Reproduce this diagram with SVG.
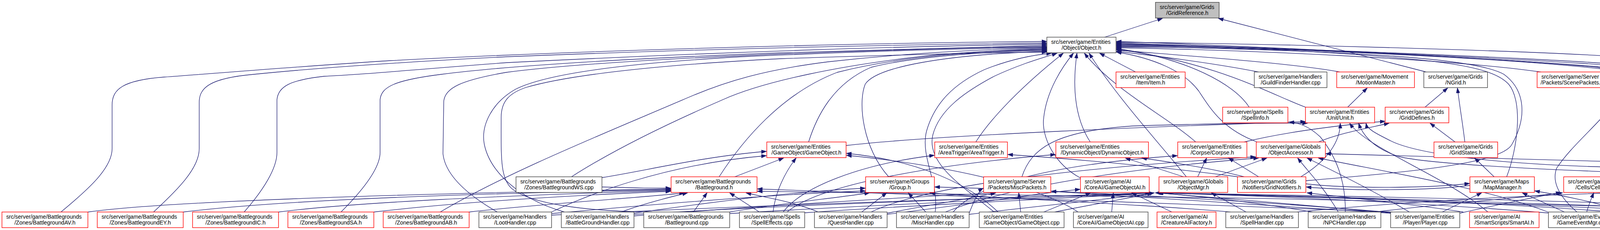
<svg xmlns="http://www.w3.org/2000/svg" width="4959" height="588" viewBox="0 0 4959 588">
<style>
.n rect{fill:#fff;stroke:#404040;stroke-width:1.4}
.r rect{stroke:#ff0000}
text{font-family:"Liberation Sans",Arial,sans-serif;font-size:14.2px;fill:#000}
.m{text-anchor:middle}
#edges path{fill:none;stroke:#191970;stroke-width:1.3;marker-end:url(#ah)}
</style>
<defs>
<marker id="ah" markerUnits="userSpaceOnUse" markerWidth="14" markerHeight="10" refX="13" refY="5" orient="auto"><path d="M0,0.5 L13,5 L0,9.5 z" fill="#191970" stroke="#191970" stroke-width="1"/></marker>
</defs>
<rect width="4959" height="588" fill="#fff"/>
<g id="edges">
<path d="M2828,95 L2976,47"/>
<path d="M3651,184 L3119,47"/>
<path d="M156,542 C225,485 287,430 287,380 L287,268 C287,228 315,205 420,197 C560,187 760,170 1000,155 C1500,128 2200,110 2680,106"/>
<path d="M393,542 C455,485 510,430 510,380 L510,262 C510,225 535,200 650,190 C800,175 1000,160 1300,145 C1800,125 2300,114 2680,110"/>
<path d="M625,542 C675,485 709,430 709,390 L709,255 C712,222 740,205 830,195 C950,190 1050,178 1300,160 C1800,135 2300,118 2680,113"/>
<path d="M873,542 C930,485 973,430 973,390 L973,255 C976,222 1010,205 1130,190 C1300,168 1600,150 2000,135 C2300,125 2500,119 2680,116"/>
<path d="M1273,542 C1200,500 1140,450 1134,393 L1136,260 C1138,225 1180,205 1296,185 C1450,165 1700,150 2000,138 C2300,127 2500,121 2680,119"/>
<path d="M1445,542 C1330,510 1255,440 1240,370 C1230,320 1260,262 1320,228 C1400,188 1600,162 1900,145 C2200,132 2450,124 2680,121"/>
<path d="M1127,542 C1300,440 1550,340 1760,250 C1860,207 1960,178 2120,158 C2300,138 2500,126 2680,123"/>
<path d="M1463,452 C1560,390 1700,320 1850,255 C1950,210 2150,165 2400,140 C2500,132 2600,127 2680,125"/>
<path d="M1841,452 C1900,360 2000,240 2143,185 C2300,145 2500,130 2680,127"/>
<path d="M2070,363 C2090,300 2130,215 2230,172 C2350,142 2550,131 2680,129"/>
<path d="M2275,452 C2210,380 2195,265 2215,215 C2245,170 2420,140 2680,131"/>
<path d="M1670,542 C1500,540 1360,522 1310,482 C1280,455 1283,400 1283,300 C1283,258 1305,238 1345,224 C1460,190 1700,165 2000,150 C2300,140 2500,135 2680,133"/>
<path d="M2394,542 C2405,470 2355,400 2372,335 C2392,265 2440,215 2520,178 C2590,150 2650,140 2692,136"/>
<path d="M2545,542 C2470,480 2370,420 2388,345 C2405,280 2470,235 2545,195 C2620,160 2680,145 2706,136"/>
<path d="M2498,363 C2535,305 2610,225 2722,136"/>
<path d="M2766,455 C2700,420 2665,350 2672,300 C2680,230 2720,170 2748,136"/>
<path d="M2791,363 C2750,300 2745,220 2757,136"/>
<path d="M3061,363 C2990,300 2850,230 2776,136"/>
<path d="M3037,452 C2980,380 2860,250 2788,136"/>
<path d="M2907,184 L2815,136"/>
<path d="M3222,184 C3100,160 2950,142 2858,131"/>
<path d="M3430,184 C3300,160 3000,140 2858,128"/>
<path d="M3945,184 C3700,150 3200,128 2858,122"/>
<path d="M3198,274 C3160,215 3040,150 2858,124"/>
<path d="M3345,275 C3260,245 3120,160 2858,126"/>
<path d="M3218,363 C3130,330 3100,280 3069,233 C3030,180 2950,148 2858,133"/>
<path d="M3857,452 C3885,380 3900,260 3862,215 C3820,170 3700,150 3280,128 C3100,122 2950,120 2858,120"/>
<path d="M3343,462 C3600,440 3840,420 3870,370 C3910,300 3905,230 3850,190 C3780,150 3500,130 2858,118"/>
<path d="M4100,452 C4150,400 4197,330 4195,260 C4193,215 4180,192 4150,182 C3900,150 3300,122 2858,116"/>
<path d="M4037,542 C4000,510 3970,470 3985,430 C4030,360 4140,280 4147,230 C4150,195 4130,180 4090,172 C3800,145 3300,124 2858,114"/>
<path d="M4294,452 C4290,380 4270,250 4230,200 C4200,175 4150,168 4050,162 C3700,140 3200,120 2858,112"/>
<path d="M4596,452 C4520,330 4420,230 4300,190 C4200,165 4100,160 3900,150 C3500,130 3100,118 2858,110"/>
<path d="M4681,542 C4720,460 4740,330 4735,260 C4730,210 4700,190 4600,180 C4400,160 4200,145 3900,133 C3500,118 3100,110 2858,108"/>
<path d="M4862,542 C4850,450 4845,330 4840,260 C4830,210 4790,195 4700,192 C4600,192 4540,185 4480,178 C4400,185 4300,188 4200,180 C4000,160 3400,125 2858,106"/>
<path d="M3450,274 L3500,225"/>
<path d="M3648,274 L3706,225"/>
<path d="M3750,363 C3745,320 3738,280 3731,225"/>
<path d="M3725,363 L3661,315"/>
<path d="M3825,452 L3775,404"/>
<path d="M3330,452 C3400,410 3431,360 3431,315"/>
<path d="M3375,363 C3430,340 3500,328 3556,315"/>
<path d="M3185,363 C3300,335 3450,318 3546,310"/>
<path d="M1881,452 L2006,404"/>
<path d="M1541,454 C1650,437 1800,400 1962,387"/>
<path d="M1412,542 C1500,500 1700,420 1962,398"/>
<path d="M1979,542 C1985,490 2010,440 2038,404"/>
<path d="M2555,542 C2480,470 2350,410 2167,392"/>
<path d="M2760,542 C2650,470 2400,420 2167,397"/>
<path d="M2166,372 C2400,345 3000,322 3342,311"/>
<path d="M2616,452 C2640,380 2700,335 2900,322 C3100,316 3250,314 3347,315"/>
<path d="M225,542 C400,518 900,498 1717,483"/>
<path d="M469,542 C700,514 1100,497 1717,485"/>
<path d="M713,542 C900,518 1300,499 1717,487"/>
<path d="M957,542 C1200,514 1500,498 1717,489"/>
<path d="M1201,542 C1400,520 1650,505 1752,493"/>
<path d="M1541,478 C1600,480 1660,481 1717,481"/>
<path d="M1590,542 C1650,520 1710,505 1760,493"/>
<path d="M1775,542 L1810,493"/>
<path d="M1944,542 L1868,493"/>
<path d="M2095,542 C2030,515 1960,505 1910,493"/>
<path d="M3565,542 C3000,520 2300,496 1939,483"/>
<path d="M4785,542 C4000,520 2800,497 1939,489"/>
<path d="M1623,545 C1800,520 2000,492 2215,481"/>
<path d="M1412,546 C1700,520 2000,496 2215,488"/>
<path d="M1868,542 C2000,520 2150,505 2226,493"/>
<path d="M2206,542 L2270,493"/>
<path d="M2370,542 L2325,493"/>
<path d="M3150,542 C2900,520 2500,505 2380,493"/>
<path d="M3570,544 C3200,512 2700,486 2393,478"/>
<path d="M2005,542 C2050,480 2200,420 2392,397"/>
<path d="M3169,452 C3000,430 2800,410 2580,395"/>
<path d="M2015,542 C2100,470 2400,420 2702,395"/>
<path d="M3030,452 L2881,404"/>
<path d="M3185,452 C3100,430 3000,415 2923,404"/>
<path d="M2440,542 C2500,470 2700,420 3014,398"/>
<path d="M3066,452 L3089,404"/>
<path d="M3222,452 L3145,404"/>
<path d="M2230,542 C2400,460 2900,420 3214,401"/>
<path d="M2420,542 C2600,470 2950,425 3222,404"/>
<path d="M3111,452 L3243,404"/>
<path d="M3426,542 C3390,480 3350,440 3322,404"/>
<path d="M3608,542 C3520,490 3420,440 3346,404"/>
<path d="M3963,542 C3800,480 3550,440 3375,404"/>
<path d="M4610,542 C4500,460 4420,425 4200,415 C3900,405 3600,398 3394,393"/>
<path d="M4523,455 C4300,445 3700,430 3580,400 C3520,380 3490,350 3478,315"/>
<path d="M4588,542 C4500,470 4400,432 4150,428 C3800,420 3620,390 3560,360 C3520,340 3500,330 3497,315"/>
<path d="M3809,542 C3700,450 3500,380 3455,315"/>
<path d="M3444,542 C3445,460 3420,400 3380,350 C3350,322 3325,314 3300,312"/>
<path d="M2481,545 C2495,510 2505,488 2517,481"/>
<path d="M2271,545 C2400,520 2500,505 2549,493"/>
<path d="M2613,542 L2608,493"/>
<path d="M3570,546 C3200,520 2900,500 2691,489"/>
<path d="M2271,548 C2500,520 2650,495 2765,484"/>
<path d="M2672,542 L2792,493"/>
<path d="M2846,542 L2850,493"/>
<path d="M3000,542 L2897,493"/>
<path d="M2700,542 C2800,522 2900,505 2950,493"/>
<path d="M2060,544 C2400,520 2800,505 2945,493"/>
<path d="M2481,548 C2700,522 2880,505 2955,493"/>
<path d="M3190,542 L3101,493"/>
<path d="M3360,542 C3200,515 3050,500 2965,493"/>
<path d="M3565,545 C3300,520 3100,505 2962,493"/>
<path d="M3970,545 C3600,515 3200,500 2960,493"/>
<path d="M4580,545 C4000,520 3300,500 2958,493"/>
<path d="M4785,545 C4200,515 3400,500 2958,493"/>
<path d="M4170,545 C3800,515 3300,500 2960,493"/>
<path d="M1412,550 C2000,522 2600,505 2950,493"/>
<path d="M1623,548 C2100,520 2600,505 2948,493"/>
<path d="M1868,546 C2300,520 2700,505 2952,493"/>
<path d="M1623,552 C1900,530 2300,505 2549,493"/>
<path d="M3746,542 C3600,520 3450,505 3346,493"/>
<path d="M3343,470 C3450,482 3650,482 3762,469"/>
<path d="M3763,474 C3650,488 3450,488 3344,478"/>
<path d="M3692,542 L3793,493"/>
<path d="M4005,542 L3897,493"/>
<path d="M4170,545 C4100,520 4000,500 3929,488"/>
<path d="M3737,545 C3850,520 3950,500 3996,492"/>
<path d="M4062,542 C4068,520 4075,505 4080,493"/>
<path d="M4380,542 C4300,520 4220,505 4168,493"/>
<path d="M4580,542 C4450,520 4250,505 4170,493"/>
<path d="M4200,542 C4190,520 4180,505 4172,493"/>
<path d="M3520,542 C3700,520 3900,505 4000,493"/>
<path d="M3320,542 C3600,515 3900,500 4166,492"/>
<path d="M4593,542 L4382,493"/>
<path d="M4494,542 L4571,493"/>
<path d="M4651,542 L4629,493"/>
<path d="M4810,542 L4675,493"/>
<path d="M4380,546 C3900,520 3300,502 2962,493"/>
</g>
<g id="node-GridReference" class="n"><rect x="2958" y="6" width="163" height="40" style="fill:#bfbfbf"/><text x="2969" y="22.8">src/server/game/Grids</text><text class="m" x="3039.5" y="37.5">/GridReference.h</text></g>
<g id="node-Object_h" class="n"><rect x="2680" y="95" width="177" height="40"/><text x="2691" y="111.8">src/server/game/Entities</text><text class="m" x="2768.5" y="126.5">/Object/Object.h</text></g>
<g id="node-Item_h" class="n r"><rect x="2857" y="184" width="177" height="40"/><text x="2868" y="200.8">src/server/game/Entities</text><text class="m" x="2945.5" y="215.5">/Item/Item.h</text></g>
<g id="node-GuildFinderHandler" class="n"><rect x="3211" y="184" width="186" height="40"/><text x="3222" y="200.8">src/server/game/Handlers</text><text class="m" x="3304" y="215.5">/GuildFinderHandler.cpp</text></g>
<g id="node-MotionMaster" class="n r"><rect x="3422" y="184" width="199" height="40"/><text x="3433" y="200.8">src/server/game/Movement</text><text class="m" x="3521.5" y="215.5">/MotionMaster.h</text></g>
<g id="node-NGrid" class="n"><rect x="3645" y="184" width="163" height="40"/><text x="3656" y="200.8">src/server/game/Grids</text><text class="m" x="3726.5" y="215.5">/NGrid.h</text></g>
<g id="node-ScenePackets" class="n r"><rect x="3935" y="184" width="179" height="40"/><text x="3946" y="200.8">src/server/game/Server</text><text class="m" x="4024.5" y="215.5">/Packets/ScenePackets.h</text></g>
<g id="node-SpellInfo" class="n r"><rect x="3130" y="274" width="167" height="40"/><text x="3141" y="290.8">src/server/game/Spells</text><text class="m" x="3213.5" y="305.5">/SpellInfo.h</text></g>
<g id="node-Unit" class="n r"><rect x="3342" y="274" width="177" height="40"/><text x="3353" y="290.8">src/server/game/Entities</text><text class="m" x="3430.5" y="305.5">/Unit/Unit.h</text></g>
<g id="node-GridDefines" class="n r"><rect x="3546" y="274" width="163" height="40"/><text x="3557" y="290.8">src/server/game/Grids</text><text class="m" x="3627.5" y="305.5">/GridDefines.h</text></g>
<g id="node-GameObject_h" class="n r"><rect x="1963" y="363" width="203" height="40"/><text x="1974" y="379.8">src/server/game/Entities</text><text class="m" x="2064.5" y="394.5">/GameObject/GameObject.h</text></g>
<g id="node-AreaTrigger" class="n r"><rect x="2393" y="363" width="186" height="40"/><text x="2404" y="379.8">src/server/game/Entities</text><text class="m" x="2486" y="394.5">/AreaTrigger/AreaTrigger.h</text></g>
<g id="node-DynamicObject" class="n r"><rect x="2703" y="363" width="237" height="40"/><text x="2714" y="379.8">src/server/game/Entities</text><text class="m" x="2821.5" y="394.5">/DynamicObject/DynamicObject.h</text></g>
<g id="node-Corpse" class="n r"><rect x="3015" y="363" width="177" height="40"/><text x="3026" y="379.8">src/server/game/Entities</text><text class="m" x="3103.5" y="394.5">/Corpse/Corpse.h</text></g>
<g id="node-ObjectAccessor" class="n r"><rect x="3216" y="363" width="177" height="40"/><text x="3227" y="379.8">src/server/game/Globals</text><text class="m" x="3304.5" y="394.5">/ObjectAccessor.h</text></g>
<g id="node-GridStates" class="n r"><rect x="3671" y="363" width="163" height="40"/><text x="3682" y="379.8">src/server/game/Grids</text><text class="m" x="3752.5" y="394.5">/GridStates.h</text></g>
<g id="node-BattlegroundWS_cpp" class="n"><rect x="1321" y="452" width="220" height="40"/><text x="1332" y="468.8">src/server/game/Battlegrounds</text><text class="m" x="1431" y="483.5">/Zones/BattlegroundWS.cpp</text></g>
<g id="node-Battleground_h" class="n r"><rect x="1718" y="452" width="220" height="40"/><text x="1729" y="468.8">src/server/game/Battlegrounds</text><text class="m" x="1828" y="483.5">/Battleground.h</text></g>
<g id="node-Group" class="n r"><rect x="2216" y="452" width="176" height="40"/><text x="2227" y="468.8">src/server/game/Groups</text><text class="m" x="2304" y="483.5">/Group.h</text></g>
<g id="node-MiscPackets" class="n r"><rect x="2518" y="452" width="172" height="40"/><text x="2529" y="468.8">src/server/game/Server</text><text class="m" x="2604" y="483.5">/Packets/MiscPackets.h</text></g>
<g id="node-GameObjectAI_h" class="n r"><rect x="2766" y="452" width="176" height="40"/><text x="2777" y="468.8">src/server/game/AI</text><text class="m" x="2854" y="483.5">/CoreAI/GameObjectAI.h</text></g>
<g id="node-ObjectMgr_h" class="n r"><rect x="2967" y="452" width="176" height="40"/><text x="2978" y="468.8">src/server/game/Globals</text><text class="m" x="3055" y="483.5">/ObjectMgr.h</text></g>
<g id="node-GridNotifiers" class="n r"><rect x="3168" y="452" width="175" height="40"/><text x="3179" y="468.8">src/server/game/Grids</text><text class="m" x="3255.5" y="483.5">/Notifiers/GridNotifiers.h</text></g>
<g id="node-MapManager" class="n r"><rect x="3763" y="452" width="165" height="40"/><text x="3774" y="468.8">src/server/game/Maps</text><text class="m" x="3845.5" y="483.5">/MapManager.h</text></g>
<g id="node-CellImpl" class="n r"><rect x="4003" y="452" width="163" height="40"/><text x="4014" y="468.8">src/server/game/Grids</text><text class="m" x="4084.5" y="483.5">/Cells/CellImpl.h</text></g>
<g id="node-MovementPackets" class="n r"><rect x="4189" y="452" width="208" height="40"/><text x="4200" y="468.8">src/server/game/Server</text><text class="m" x="4293" y="483.5">/Packets/MovementPackets.h</text></g>
<g id="node-Vehicle" class="n r"><rect x="4523" y="452" width="178" height="40"/><text x="4534" y="468.8">src/server/game/Entities</text><text class="m" x="4612" y="483.5">/Vehicle/Vehicle.h</text></g>
<g id="node-BattlegroundAV" class="n r"><rect x="5" y="542" width="220" height="40"/><text x="16" y="558.8">src/server/game/Battlegrounds</text><text class="m" x="115" y="573.5">/Zones/BattlegroundAV.h</text></g>
<g id="node-BattlegroundEY" class="n r"><rect x="249" y="542" width="220" height="40"/><text x="260" y="558.8">src/server/game/Battlegrounds</text><text class="m" x="359" y="573.5">/Zones/BattlegroundEY.h</text></g>
<g id="node-BattlegroundIC" class="n r"><rect x="493" y="542" width="220" height="40"/><text x="504" y="558.8">src/server/game/Battlegrounds</text><text class="m" x="603" y="573.5">/Zones/BattlegroundIC.h</text></g>
<g id="node-BattlegroundSA" class="n r"><rect x="737" y="542" width="220" height="40"/><text x="748" y="558.8">src/server/game/Battlegrounds</text><text class="m" x="847" y="573.5">/Zones/BattlegroundSA.h</text></g>
<g id="node-BattlegroundAB" class="n r"><rect x="981" y="542" width="220" height="40"/><text x="992" y="558.8">src/server/game/Battlegrounds</text><text class="m" x="1091" y="573.5">/Zones/BattlegroundAB.h</text></g>
<g id="node-LootHandler" class="n"><rect x="1226" y="542" width="186" height="40"/><text x="1237" y="558.8">src/server/game/Handlers</text><text class="m" x="1319" y="573.5">/LootHandler.cpp</text></g>
<g id="node-BattleGroundHandler" class="n"><rect x="1437" y="542" width="186" height="40"/><text x="1448" y="558.8">src/server/game/Handlers</text><text class="m" x="1530" y="573.5">/BattleGroundHandler.cpp</text></g>
<g id="node-Battleground_cpp" class="n"><rect x="1648" y="542" width="220" height="40"/><text x="1659" y="558.8">src/server/game/Battlegrounds</text><text class="m" x="1758" y="573.5">/Battleground.cpp</text></g>
<g id="node-SpellEffects" class="n"><rect x="1893" y="542" width="167" height="40"/><text x="1904" y="558.8">src/server/game/Spells</text><text class="m" x="1976.5" y="573.5">/SpellEffects.cpp</text></g>
<g id="node-QuestHandler" class="n"><rect x="2085" y="542" width="186" height="40"/><text x="2096" y="558.8">src/server/game/Handlers</text><text class="m" x="2178" y="573.5">/QuestHandler.cpp</text></g>
<g id="node-MiscHandler" class="n"><rect x="2295" y="542" width="186" height="40"/><text x="2306" y="558.8">src/server/game/Handlers</text><text class="m" x="2388" y="573.5">/MiscHandler.cpp</text></g>
<g id="node-GameObject_cpp" class="n"><rect x="2507" y="542" width="217" height="40"/><text x="2518" y="558.8">src/server/game/Entities</text><text class="m" x="2615.5" y="573.5">/GameObject/GameObject.cpp</text></g>
<g id="node-GameObjectAI_cpp" class="n"><rect x="2748" y="542" width="191" height="40"/><text x="2759" y="558.8">src/server/game/AI</text><text class="m" x="2843.5" y="573.5">/CoreAI/GameObjectAI.cpp</text></g>
<g id="node-CreatureAIFactory" class="n r"><rect x="2962" y="542" width="151" height="40"/><text x="2973" y="558.8">src/server/game/AI</text><text class="m" x="3037.5" y="573.5">/CreatureAIFactory.h</text></g>
<g id="node-SpellHandler" class="n"><rect x="3138" y="542" width="186" height="40"/><text x="3149" y="558.8">src/server/game/Handlers</text><text class="m" x="3231" y="573.5">/SpellHandler.cpp</text></g>
<g id="node-NPCHandler" class="n"><rect x="3349" y="542" width="186" height="40"/><text x="3360" y="558.8">src/server/game/Handlers</text><text class="m" x="3442" y="573.5">/NPCHandler.cpp</text></g>
<g id="node-Player_cpp" class="n"><rect x="3560" y="542" width="177" height="40"/><text x="3571" y="558.8">src/server/game/Entities</text><text class="m" x="3648.5" y="573.5">/Player/Player.cpp</text></g>
<g id="node-SmartAI" class="n r"><rect x="3762" y="542" width="178" height="40"/><text x="3773" y="558.8">src/server/game/AI</text><text class="m" x="3851" y="573.5">/SmartScripts/SmartAI.h</text></g>
<g id="node-GameEventMgr" class="n"><rect x="3964" y="542" width="173" height="40"/><text x="3975" y="558.8">src/server/game/Events</text><text class="m" x="4050.5" y="573.5">/GameEventMgr.cpp</text></g>
<g id="node-BattlefieldHandler" class="n"><rect x="4162" y="542" width="186" height="40"/><text x="4173" y="558.8">src/server/game/Handlers</text><text class="m" x="4255" y="573.5">/BattlefieldHandler.cpp</text></g>
<g id="node-Transport" class="n"><rect x="4373" y="542" width="177" height="40"/><text x="4384" y="558.8">src/server/game/Entities</text><text class="m" x="4461.5" y="573.5">/Transport/Transport.cpp</text></g>
<g id="node-Object_cpp" class="n"><rect x="4575" y="542" width="177" height="40"/><text x="4586" y="558.8">src/server/game/Entities</text><text class="m" x="4663.5" y="573.5">/Object/Object.cpp</text></g>
<g id="node-ObjectMgr_cpp" class="n"><rect x="4777" y="542" width="177" height="40"/><text x="4788" y="558.8">src/server/game/Globals</text><text class="m" x="4865.5" y="573.5">/ObjectMgr.cpp</text></g>
</svg>
